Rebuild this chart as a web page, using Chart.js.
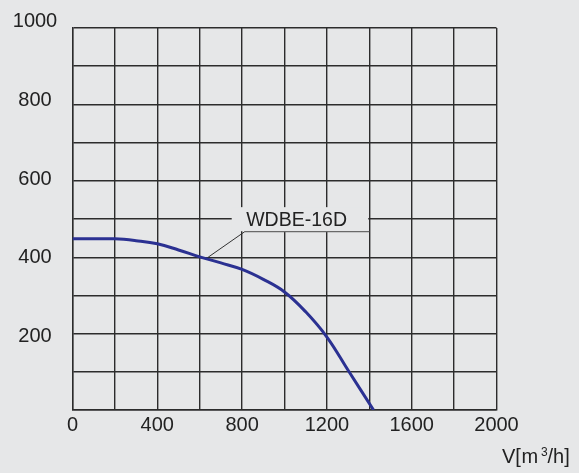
<!DOCTYPE html>
<html>
<head>
<meta charset="utf-8">
<script src="https://cdn.jsdelivr.net/npm/chart.js@4.4.1/dist/chart.umd.min.js"></script>
<style>
  html, body { margin: 0; padding: 0; background: #e6e7e8; }
  #wrap { width: 579px; height: 473px; position: relative; }
</style>
</head>
<body>
<div id="wrap"><canvas id="c" width="579" height="473"></canvas></div>
<script>
// ---- data ----
const flowV = [0, 100, 200, 300, 400, 500, 600, 700, 800, 900, 1000, 1100, 1200, 1300, 1420];
const pressureP = [448, 448, 448, 443, 435, 419, 401, 385, 368, 342, 309, 257, 191, 104, 0];
const seriesName = 'WDBE-16D';
const xTickLabels = [0, 400, 800, 1200, 1600, 2000];
const yTickLabels = [200, 400, 600, 800, 1000];
const axisTitleParts = ['V[', 'm', '3', '/h]'];

// annotation anchors in data units
const labelAt = { x: 1057, y: 497 };
const labelBox = { x0: 751, x1: 1395, y0: 468, y1: 531 };
const underline = { x0: 813, x1: 1400, y: 467 };
const leaderEnd = { x: 640, y: 400 };

const BG = '#e6e7e8';
const GRID = '#2c2c2c';
const TEXT = '#222222';
const FONT = "'Liberation Sans', Arial, sans-serif";

const annotationPlugin = {
  id: 'wdbeLabel',
  afterDatasetsDraw(chart) {
    const { ctx, scales: { x, y } } = chart;
    ctx.save();
    // background box breaking the grid behind the label
    ctx.fillStyle = BG;
    const bx0 = x.getPixelForValue(labelBox.x0), bx1 = x.getPixelForValue(labelBox.x1);
    const by0 = y.getPixelForValue(labelBox.y1), by1 = y.getPixelForValue(labelBox.y0);
    ctx.fillRect(bx0, by0, bx1 - bx0, by1 - by0);
    // underline
    const uy = y.getPixelForValue(underline.y);
    const ux0 = x.getPixelForValue(underline.x0), ux1 = x.getPixelForValue(underline.x1);
    ctx.strokeStyle = '#6a6a6a';
    ctx.lineWidth = 1.2;
    ctx.beginPath();
    ctx.moveTo(ux0, uy); ctx.lineTo(ux1, uy);
    ctx.stroke();
    // leader
    ctx.strokeStyle = '#333333';
    ctx.lineWidth = 1;
    ctx.beginPath();
    ctx.moveTo(ux0, uy);
    ctx.lineTo(x.getPixelForValue(leaderEnd.x), y.getPixelForValue(leaderEnd.y));
    ctx.stroke();
    // series label
    ctx.fillStyle = TEXT;
    ctx.font = "19.5px " + FONT;
    ctx.textAlign = 'center';
    ctx.textBaseline = 'middle';
    ctx.fillText(seriesName, x.getPixelForValue(labelAt.x), y.getPixelForValue(labelAt.y));

    // y tick labels (the reference spaces them slightly wider than the grid)
    ctx.font = "20px " + FONT;
    ctx.textAlign = 'center';
    ctx.textBaseline = 'middle';
    yTickLabels.forEach(v => {
      const yy = y.getPixelForValue(191.5 + (v - 200) * 1.0329);
      ctx.fillText(String(v), 35, yy);
    });

    // axis title V[m3/h]
    ctx.textAlign = 'left';
    ctx.textBaseline = 'alphabetic';
    ctx.font = "20px " + FONT;
    ctx.fillText(axisTitleParts[0], 502, 463);
    ctx.fillText(axisTitleParts[1], 521.5, 463);
    ctx.font = "12px " + FONT;
    ctx.fillText(axisTitleParts[2], 541, 456);
    ctx.font = "20px " + FONT;
    ctx.fillText(axisTitleParts[3], 547.5, 463);
    ctx.restore();
  }
};

const bgPlugin = {
  id: 'bg',
  beforeDraw(chart) {
    const ctx = chart.ctx;
    ctx.save();
    ctx.fillStyle = BG;
    ctx.fillRect(0, 0, chart.width, chart.height);
    ctx.restore();
  }
};

new Chart(document.getElementById('c'), {
  type: 'line',
  data: {
    datasets: [{
      label: seriesName,
      data: flowV.map((v, i) => ({ x: v, y: pressureP[i] })),
      borderColor: '#2b3192',
      borderWidth: 3,
      pointRadius: 0,
      fill: false,
      tension: 0.4
    }]
  },
  options: {
    responsive: false,
    animation: false,
    devicePixelRatio: 1,
    layout: { padding: { left: 0, top: 27.3, right: 82.5, bottom: 0 } },
    plugins: { legend: { display: false }, tooltip: { enabled: false } },
    scales: {
      x: {
        type: 'linear',
        min: 0, max: 2000,
        afterFit(s) { s.height = 63; },
        border: { display: true, color: GRID, width: 1.4 },
        grid: { color: GRID, lineWidth: 1.4, drawTicks: false },
        ticks: {
          stepSize: 200,
          autoSkip: false,
          maxRotation: 0,
          padding: 3.5,
          color: TEXT,
          font: { family: FONT, size: 20 },
          callback: (v) => xTickLabels.includes(v) ? String(v) : ''
        }
      },
      y: {
        type: 'linear',
        min: 0, max: 1000,
        afterFit(s) { s.width = 72.5; },
        border: { display: true, color: GRID, width: 1.4 },
        grid: { color: GRID, lineWidth: 1.4, drawTicks: false },
        ticks: {
          stepSize: 100,
          autoSkip: false,
          padding: 16,
          color: TEXT,
          font: { family: FONT, size: 20 },
          callback: () => ''
        }
      }
    }
  },
  plugins: [bgPlugin, annotationPlugin]
});
</script>
</body>
</html>
